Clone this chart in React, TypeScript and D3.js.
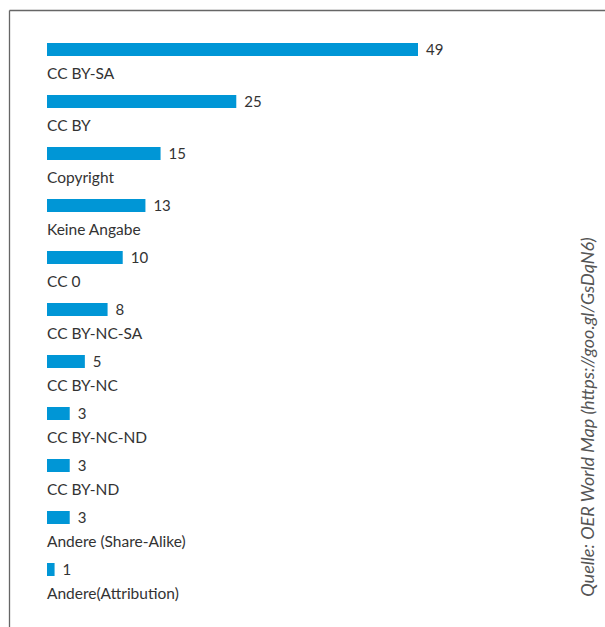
import React from "react";
import * as d3 from "d3";

const categories = [
  "CC BY-SA",
  "CC BY",
  "Copyright",
  "Keine Angabe",
  "CC 0",
  "CC BY-NC-SA",
  "CC BY-NC",
  "CC BY-NC-ND",
  "CC BY-ND",
  "Andere (Share-Alike)",
  "Andere(Attribution)",
];
const values = [49, 25, 15, 13, 10, 8, 5, 3, 3, 3, 1];
const sourceText = "Quelle: OER World Map (https://goo.gl/GsDqN6)";

const W = 605;
const H = 627;
const FONT = "Lato, 'Source Sans Pro', 'Open Sans', sans-serif";

export default function App() {
  const x = d3.scaleLinear().domain([0, 49]).range([47, 418]);
  const y = d3
    .scaleBand<string>()
    .domain(categories)
    .range([43, 43 + 52 * categories.length])
    .paddingInner(0)
    .paddingOuter(0);
  const barH = 13;
  return (
    <svg
      width={W}
      height={H}
      style={{ position: "absolute", left: 0, top: 0, background: "#fff" }}
      fontFamily={FONT}
    >
      <line x1={9.5} y1={10.5} x2={W} y2={10.5} stroke="#666" strokeWidth={1.3} />
      <line x1={9.5} y1={10.5} x2={9.5} y2={H} stroke="#666" strokeWidth={1.3} />
      {categories.map((c, i) => {
        const y0 = y(c)!;
        return (
          <g key={c}>
            <rect x={x(0)} y={y0} width={x(values[i]) - x(0)} height={barH} fill="#0096d6" />
            <text
              x={x(values[i]) + 8}
              y={y0 + barH / 2}
              dy="0.38em"
              fontSize={15}
              fill="#333"
            >
              {values[i]}
            </text>
            <text x={x(0)} y={y0 + 36} fontSize={15.5} fill="#333">
              {c}
            </text>
          </g>
        );
      })}
      <text
        transform={`translate(594, 417) rotate(-90)`}
        textAnchor="middle"
        fontSize={18}
        fontStyle="italic"
        fill="#555"
      >
        {sourceText}
      </text>
    </svg>
  );
}
